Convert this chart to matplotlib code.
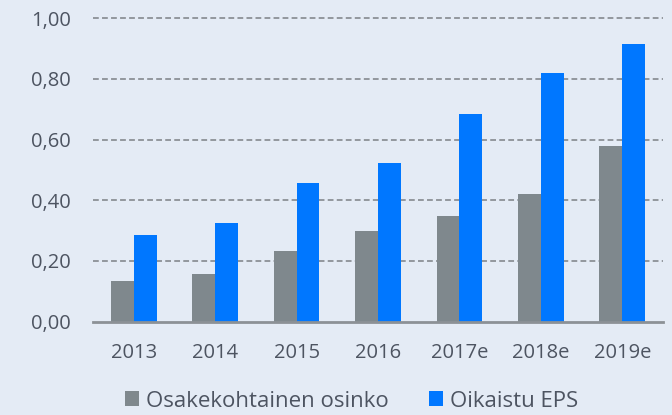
import matplotlib.pyplot as plt
import numpy as np

years = ['2013', '2014', '2015', '2016', '2017e', '2018e', '2019e']
osinko = [0.135, 0.156, 0.233, 0.300, 0.349, 0.420, 0.580]
eps = [0.285, 0.325, 0.458, 0.524, 0.685, 0.818, 0.913]
yticks = [0.0, 0.2, 0.4, 0.6, 0.8, 1.0]

bg = '#E4EBF5'
text_col = '#4D5461'
gray = '#7F888D'
blue = '#0077FF'

plt.rcParams['font.family'] = ['Open Sans', 'DejaVu Sans']

fig = plt.figure(figsize=(6.72, 4.15), dpi=100, facecolor=bg)
ax = fig.add_axes([0.1384, 0.2248, 0.8482, 0.739], facecolor=bg)

x = np.arange(len(years))
w = 0.28
ax.bar(x - w / 2, osinko, w, color=gray, label='Osakekohtainen osinko', zorder=3)
ax.bar(x + w / 2, eps, w, color=blue, label='Oikaistu EPS', zorder=3)

ax.set_xlim(-0.5, len(years) - 0.5)
ax.set_ylim(0, 1.01)
ax.set_yticks(yticks)
ax.set_yticklabels([('%.2f' % v).replace('.', ',') for v in yticks], fontsize=14.5, color=text_col)
ax.set_xticks(x)
ax.set_xticklabels(years, fontsize=14.5, color=text_col)
ax.tick_params(axis='y', length=0, pad=16)
ax.tick_params(axis='x', length=0, pad=15)

for v in yticks[1:]:
    ax.axhline(v, color='#8C9196', lw=1.3, ls=(0, (3.2, 1.8)), zorder=1)

for s in ['top', 'right', 'left']:
    ax.spines[s].set_visible(False)
ax.spines['bottom'].set_color('#8C9196')
ax.spines['bottom'].set_linewidth(2)
ax.spines['bottom'].set_zorder(4)

fig.legend(loc='lower center', bbox_to_anchor=(0.523, -0.04), ncol=2, frameon=False,
           fontsize=16, labelcolor=text_col, handlelength=0.65, handleheight=0.65,
           handletextpad=0.3, columnspacing=1.8)

fig.savefig('out.png', dpi=100, facecolor=bg)
plt.close()
